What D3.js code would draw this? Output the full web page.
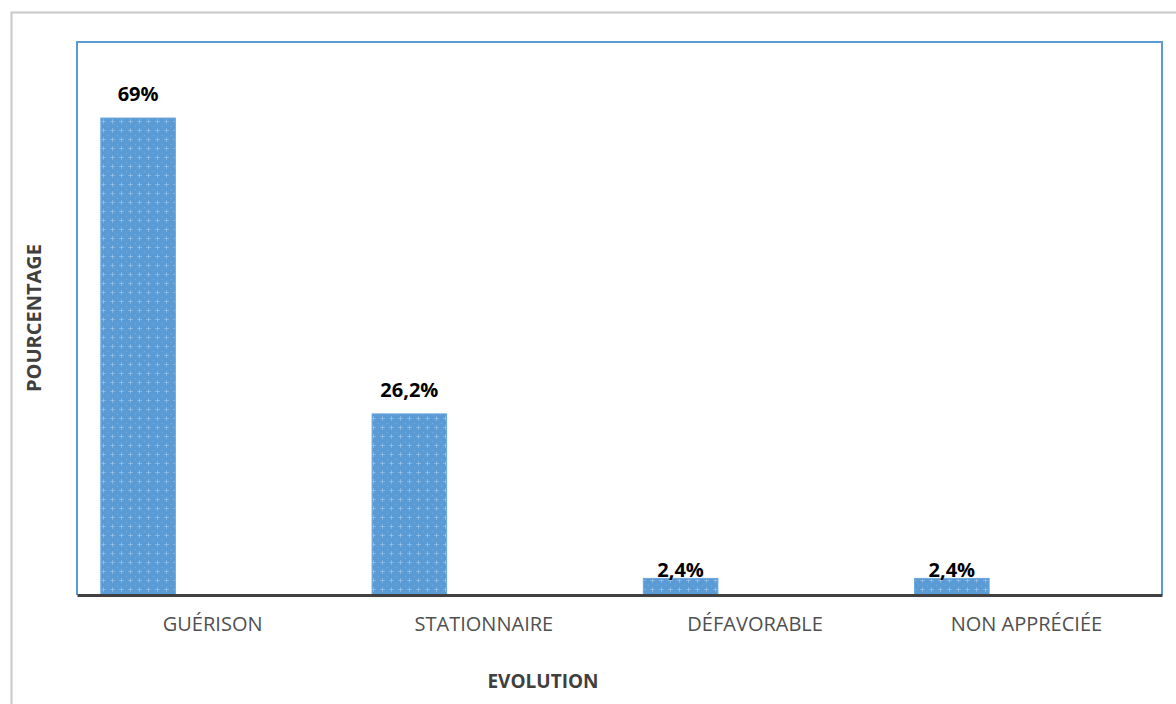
<!DOCTYPE html>
<html>
<head>
<meta charset="utf-8">
<script src="https://cdn.jsdelivr.net/npm/d3@7"></script>
<style>
  html, body { margin: 0; padding: 0; background: #fff; }
  svg { display: block; }
</style>
</head>
<body>
<script>
// Evolution des cas, en pourcentage
const categories = ["GUÉRISON", "STATIONNAIRE", "DÉFAVORABLE", "NON APPRÉCIÉE"];
const values = [69, 26.2, 2.4, 2.4];
const valueLabels = ["69%", "26,2%", "2,4%", "2,4%"];
const seriesSlots = ["s1", "s2", "s3"]; // one filled series, two empty slots per category
const yDomain = [0, 80];

const W = 1176, H = 704;
const plot = { left: 77, right: 1162, top: 42, bottom: 595 };
const font = "'Open Sans', 'Noto Sans', sans-serif";

const svg = d3.select("body").append("svg").attr("width", W).attr("height", H);

// dotted fill pattern for the bars
const defs = svg.append("defs");
const pat = defs.append("pattern")
  .attr("id", "dots").attr("patternUnits", "userSpaceOnUse")
  .attr("width", 9).attr("height", 9);
pat.append("rect").attr("width", 9).attr("height", 9).attr("fill", "#5b9bd5");
pat.append("rect").attr("x", 4).attr("y", 2).attr("width", 1).attr("height", 5).attr("fill", "#82b2e0");
pat.append("rect").attr("x", 2).attr("y", 4).attr("width", 5).attr("height", 1).attr("fill", "#82b2e0");
pat.append("rect").attr("x", 0).attr("y", 0).attr("width", 1).attr("height", 1).attr("fill", "#7aade0");
pat.append("rect").attr("x", 4).attr("y", 4).attr("width", 1).attr("height", 1).attr("fill", "#a5c8ea");

// outer chart frame
svg.append("rect")
  .attr("x", 11.5).attr("y", 12.5).attr("width", W).attr("height", H)
  .attr("fill", "none").attr("stroke", "#c8c8c8").attr("stroke-width", 2);

const x = d3.scaleBand().domain(categories).range([plot.left, plot.right]);
const xs = d3.scaleBand().domain(seriesSlots).range([0, x.bandwidth()]).paddingOuter(0.32);
const y = d3.scaleLinear().domain(yDomain).range([plot.bottom, plot.top]);

// plot-area border
svg.append("path")
  .attr("d", `M${plot.left},${plot.bottom} V${plot.top} H${plot.right} V${plot.bottom}`)
  .attr("fill", "none").attr("stroke", "#5b9bd5").attr("stroke-width", 2);

const data = categories.map((c, i) => ({ c, v: values[i], label: valueLabels[i] }));

svg.append("g").selectAll("rect").data(data).join("rect")
  .attr("x", d => x(d.c) + xs("s1"))
  .attr("y", d => y(d.v))
  .attr("width", xs.bandwidth())
  .attr("height", d => y(0) - y(d.v))
  .attr("fill", "url(#dots)")
  .attr("stroke", "#6aa5dc").attr("stroke-width", 1);

// value labels: above tall bars, resting on the top of short ones
svg.append("g").selectAll("text").data(data).join("text")
  .attr("x", d => x(d.c) + xs("s1") + xs.bandwidth() / 2)
  .attr("y", d => (y(0) - y(d.v) > 40 ? y(d.v) - 17 : y(d.v) - 1))
  .attr("text-anchor", "middle")
  .attr("font-family", font).attr("font-weight", "bold").attr("font-size", 20)
  .attr("fill", "#000")
  .text(d => d.label);

// category axis
const xAxis = svg.append("g")
  .attr("transform", `translate(0,${plot.bottom})`)
  .call(d3.axisBottom(x).tickSize(0).tickPadding(22));
xAxis.select(".domain").attr("stroke", "#404040").attr("stroke-width", 3);
xAxis.selectAll("text")
  .attr("font-family", font).attr("font-size", 20).attr("fill", "#505050");

// axis titles
svg.append("text")
  .attr("x", 543).attr("y", 688)
  .attr("text-anchor", "middle")
  .attr("font-family", font).attr("font-weight", "bold").attr("font-size", 19)
  .attr("fill", "#404040")
  .text("EVOLUTION");

svg.append("text")
  .attr("transform", "translate(41,318) rotate(-90)")
  .attr("text-anchor", "middle")
  .attr("font-family", font).attr("font-weight", "bold").attr("font-size", 20)
  .attr("fill", "#404040")
  .text("POURCENTAGE");
</script>
</body>
</html>
